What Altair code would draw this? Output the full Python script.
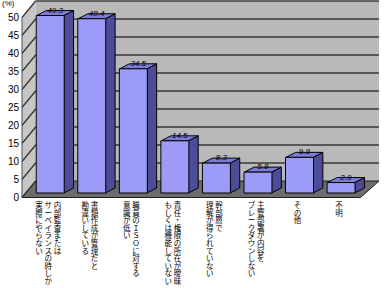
import altair as alt
import pandas as pd

# ---------------- data ----------------
label_columns = [
    ["内部監査または", "サーベイランスの時しか", "実際にやらない"],
    ["書類作成が管理だと", "勘違いしている"],
    ["職員のＩＳＯに対する", "意識が低い"],
    ["責任・権限の所在が曖昧", "もしくは機能していない"],
    ["幹部層で", "理解が得られていない"],
    ["主管部署が内容を", "ブレークダウンしない"],
    ["その他"],
    ["不　明"],
]
values = [49.3, 48.4, 34.5, 14.5, 8.3, 5.8, 9.9, 2.9]
value_labels = ["49.3", "48.4", "34.5", "14.5", "8.3", "5.8", "9.9", "2.9"]
y_ticks = [0, 5, 10, 15, 20, 25, 30, 35, 40, 45, 50]
grid_values = [5, 10, 15, 20, 25, 30, 35, 40, 45, 50]
unit_label = "(%)"

# ---------------- geometry (pixels -> data units) ----------------
W, H = 367, 180
LO = -0.679
PXX = 42.714
HI = LO + W / PXX
PXY = H / 50.0


def xu(px):
    return LO + px / PXX


BACK_DY = 12 / PXY      # back wall raised 12px
FRONT_DY = -4.5 / PXY   # front edge lowered 4.5px
BAR_DX = 10 / PXX
BAR_DY = 5 / PXY
HALF = 14 / PXX

xs = alt.Scale(domain=[LO, HI], nice=False, zero=False)
ys = alt.Scale(domain=[0, 50], nice=False, zero=False)


def X(f):
    return alt.X(f, scale=xs, axis=None)


def Y(f):
    return alt.Y(f, scale=ys, axis=None)


# ---------------- walls ----------------
back_df = pd.DataFrame({"x": [xu(14)], "x2": [xu(W)], "y": [BACK_DY], "y2": [50 + BACK_DY]})
back = alt.Chart(back_df).mark_rect(color="#b9b9b9").encode(
    x=X("x:Q"), x2="x2:Q", y=Y("y:Q"), y2="y2:Q")

left_df = pd.DataFrame({"x": [xu(0), xu(14)], "y": [50 + FRONT_DY, 50 + BACK_DY],
                        "y2": [FRONT_DY, BACK_DY]})
left = alt.Chart(left_df).mark_area(color="#c6c6c6").encode(
    x=X("x:Q"), y=Y("y:Q"), y2="y2:Q")

floor_df = pd.DataFrame({"y": [FRONT_DY, BACK_DY], "x": [xu(0), xu(14)], "x2": [xu(348), xu(W)]})
floor = alt.Chart(floor_df).mark_area(orient="horizontal", color="#6c6c6c",
                                      stroke="#202020", strokeWidth=1).encode(
    y=Y("y:Q"), x=X("x:Q"), x2="x2:Q")

grid_df = pd.DataFrame({"v": grid_values})
grid = alt.Chart(grid_df).transform_calculate(
    yb=f"datum.v + {BACK_DY}", xa=str(xu(14)), xb=str(xu(W))
).mark_rule(color="#383838", strokeWidth=1.5).encode(
    x=X("xa:Q"), x2="xb:Q", y=Y("yb:Q"))

tick_df = pd.DataFrame({"v": y_ticks})
diag = alt.Chart(tick_df).transform_calculate(
    yf=f"datum.v + {FRONT_DY}", yb=f"datum.v + {BACK_DY}", xa=str(xu(0)), xb=str(xu(14))
).mark_rule(color="#303030", strokeWidth=1.2).encode(
    x=X("xa:Q"), x2="xb:Q", y=Y("yf:Q"), y2="yb:Q")

axis_df = pd.DataFrame({"x": [xu(0)], "y": [FRONT_DY], "y2": [50 + FRONT_DY]})
axis_line = alt.Chart(axis_df).mark_rule(color="#505050", strokeWidth=1).encode(
    x=X("x:Q"), y=Y("y:Q"), y2="y2:Q")

tick_labels = alt.Chart(tick_df).transform_calculate(
    yf=f"datum.v + {FRONT_DY}", xa=str(xu(0)), t="'' + datum.v"
).mark_text(align="right", baseline="middle", dx=-3, fontSize=10,
            font="Liberation Sans", color="black").encode(
    x=X("xa:Q"), y=Y("yf:Q"), text="t:N")

unit = alt.Chart(pd.DataFrame({"t": [unit_label]})).mark_text(
    align="left", baseline="middle", fontSize=8, font="Liberation Sans", color="black"
).encode(x=alt.value(-15), y=alt.value(-9), text="t:N")

# ---------------- bars ----------------
bars_df = pd.DataFrame({"i": list(range(len(values))), "v": values, "lab": value_labels})

side_rows, top_rows = [], []
for i, v in enumerate(values):
    side_rows.append({"i": i, "x": i + HALF, "y": v, "y2": 0})
    side_rows.append({"i": i, "x": i + HALF + BAR_DX, "y": v + BAR_DY, "y2": BAR_DY})
    top_rows.append({"i": i, "y": v, "x": i - HALF, "x2": i + HALF})
    top_rows.append({"i": i, "y": v + BAR_DY, "x": i - HALF + BAR_DX, "x2": i + HALF + BAR_DX})
side_df = pd.DataFrame(side_rows)
top_df = pd.DataFrame(top_rows)

side = alt.Chart(side_df).mark_area(color="#4c4c98", stroke="black", strokeWidth=1).encode(
    x=X("x:Q"), y=Y("y:Q"), y2="y2:Q", detail="i:N")
top = alt.Chart(top_df).mark_area(orient="horizontal", color="#7c7cd8",
                                  stroke="black", strokeWidth=1).encode(
    y=Y("y:Q"), x=X("x:Q"), x2="x2:Q", detail="i:N")
front = alt.Chart(bars_df).mark_bar(size=28, color="#9c9cf8", stroke="black",
                                    strokeWidth=1).encode(
    x=X("i:Q"), y=Y("v:Q"), y2=alt.datum(0))

vlabels = alt.Chart(bars_df).transform_calculate(
    xl=f"datum.i + {5 / PXX}", yl=f"datum.v + {BAR_DY}"
).mark_text(baseline="bottom", dy=4, fontSize=8, fontStyle="italic",
            font="Liberation Sans", color="black").encode(
    x=X("xl:Q"), y=Y("yl:Q"), text="lab:N")

# ---------------- vertical category labels ----------------
rows = []
for i, cols in enumerate(label_columns):
    n = len(cols)
    for j, c in enumerate(cols):
        off = -2 + ((n - 1) / 2 - j) * 9.5
        rows.append({"x": i + off / PXX, "t": list(c)})
cat_df = pd.DataFrame(rows)
cats = alt.Chart(cat_df).mark_text(
    baseline="top", align="center", fontSize=7.5, lineHeight=7.6,
    font="Noto Sans CJK JP", color="black"
).encode(x=X("x:Q"), y=alt.value(189), text="t")

chart = alt.layer(
    back, left, floor, grid, diag, axis_line, tick_labels, unit,
    side, top, front, vlabels, cats
).properties(
    width=W, height=H, autosize="none",
    padding={"left": 17, "top": 13, "right": 0, "bottom": 95},
    background="white",
).configure_view(strokeWidth=0)

chart.save("out.html", embed_options={"renderer": "svg", "actions": False})
